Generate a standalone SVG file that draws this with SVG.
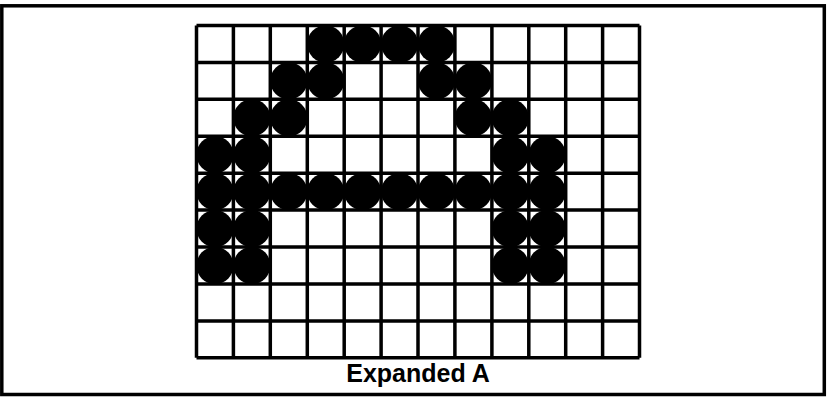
<svg xmlns="http://www.w3.org/2000/svg" width="831" height="397" viewBox="0 0 831 397">
<style>
.frame{fill:none;stroke:#000;stroke-width:3.5}
.grid{fill:none;stroke:#000;stroke-width:3.5}
.dot{fill:#000}
.label{font-family:"Liberation Sans",Arial,sans-serif;font-weight:bold;font-size:25px;fill:#000}
</style>
<rect class="frame" x="1.8" y="5.8" width="822.5" height="388.7"/>
<g id="grid">
<path class="grid" d="M196.5 25.5V357.8M233.4 25.5V357.8M270.3 25.5V357.8M307.3 25.5V357.8M344.2 25.5V357.8M381.1 25.5V357.8M418 25.5V357.8M454.9 25.5V357.8M491.9 25.5V357.8M528.8 25.5V357.8M565.7 25.5V357.8M602.6 25.5V357.8M639.5 25.5V357.8M196.5 25.5H639.5M196.5 62.4H639.5M196.5 99.3H639.5M196.5 136.3H639.5M196.5 173.2H639.5M196.5 210.1H639.5M196.5 247H639.5M196.5 283.9H639.5M196.5 320.9H639.5M196.5 357.8H639.5"/>
</g>
<g id="dots">
<circle class="dot" cx="325.7" cy="44" r="18.6"/>
<circle class="dot" cx="362.6" cy="44" r="18.6"/>
<circle class="dot" cx="399.6" cy="44" r="18.6"/>
<circle class="dot" cx="436.5" cy="44" r="18.6"/>
<circle class="dot" cx="288.8" cy="80.9" r="18.6"/>
<circle class="dot" cx="325.7" cy="80.9" r="18.6"/>
<circle class="dot" cx="436.5" cy="80.9" r="18.6"/>
<circle class="dot" cx="473.4" cy="80.9" r="18.6"/>
<circle class="dot" cx="251.9" cy="117.8" r="18.6"/>
<circle class="dot" cx="288.8" cy="117.8" r="18.6"/>
<circle class="dot" cx="473.4" cy="117.8" r="18.6"/>
<circle class="dot" cx="510.3" cy="117.8" r="18.6"/>
<circle class="dot" cx="215" cy="154.7" r="18.6"/>
<circle class="dot" cx="251.9" cy="154.7" r="18.6"/>
<circle class="dot" cx="510.3" cy="154.7" r="18.6"/>
<circle class="dot" cx="547.2" cy="154.7" r="18.6"/>
<circle class="dot" cx="215" cy="191.6" r="18.6"/>
<circle class="dot" cx="251.9" cy="191.6" r="18.6"/>
<circle class="dot" cx="288.8" cy="191.6" r="18.6"/>
<circle class="dot" cx="325.7" cy="191.6" r="18.6"/>
<circle class="dot" cx="362.6" cy="191.6" r="18.6"/>
<circle class="dot" cx="399.6" cy="191.6" r="18.6"/>
<circle class="dot" cx="436.5" cy="191.6" r="18.6"/>
<circle class="dot" cx="473.4" cy="191.6" r="18.6"/>
<circle class="dot" cx="510.3" cy="191.6" r="18.6"/>
<circle class="dot" cx="547.2" cy="191.6" r="18.6"/>
<circle class="dot" cx="215" cy="228.6" r="18.6"/>
<circle class="dot" cx="251.9" cy="228.6" r="18.6"/>
<circle class="dot" cx="510.3" cy="228.6" r="18.6"/>
<circle class="dot" cx="547.2" cy="228.6" r="18.6"/>
<circle class="dot" cx="215" cy="265.5" r="18.6"/>
<circle class="dot" cx="251.9" cy="265.5" r="18.6"/>
<circle class="dot" cx="510.3" cy="265.5" r="18.6"/>
<circle class="dot" cx="547.2" cy="265.5" r="18.6"/>
</g>
<text class="label" x="418" y="382" text-anchor="middle">Expanded A</text>
</svg>
